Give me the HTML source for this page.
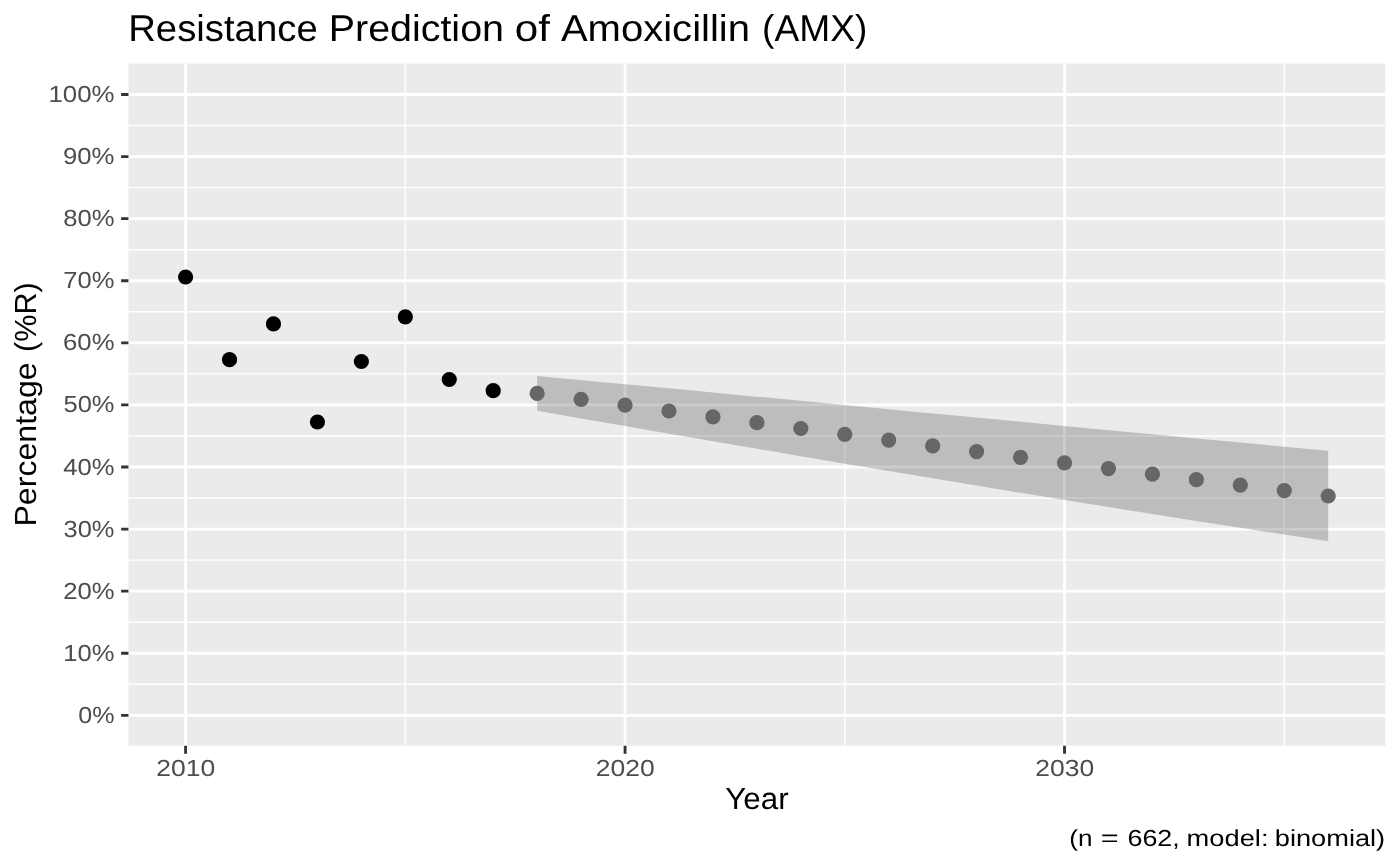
<!DOCTYPE html>
<html><head><meta charset="utf-8"><title>Resistance Prediction of Amoxicillin (AMX)</title>
<style>
html,body{margin:0;padding:0;background:#fff;}
body{width:1400px;height:866px;overflow:hidden;font-family:"Liberation Sans",sans-serif;}
svg{display:block;}
svg text{font-family:"Liberation Sans",sans-serif;}
</style></head><body>
<svg width="1400" height="866" viewBox="0 0 1400 866">
<rect width="1400" height="866" fill="#fff"/>
<rect x="128.45" y="63.6" width="1256.88" height="682.05" fill="#EBEBEB"/>
<path d="M128.45 684.31H1385.33M128.45 622.22H1385.33M128.45 560.14H1385.33M128.45 498.05H1385.33M128.45 435.97H1385.33M128.45 373.88H1385.33M128.45 311.80H1385.33M128.45 249.71H1385.33M128.45 187.63H1385.33M128.45 125.54H1385.33M405.32 63.6V745.65M844.78 63.6V745.65M1284.25 63.6V745.65" stroke="#fff" stroke-width="1.42" fill="none"/>
<path d="M128.45 715.35H1385.33M128.45 653.26H1385.33M128.45 591.18H1385.33M128.45 529.10H1385.33M128.45 467.01H1385.33M128.45 404.93H1385.33M128.45 342.84H1385.33M128.45 280.76H1385.33M128.45 218.67H1385.33M128.45 156.59H1385.33M128.45 94.50H1385.33M185.58 63.6V745.65M625.05 63.6V745.65M1064.52 63.6V745.65" stroke="#fff" stroke-width="2.85" fill="none"/>
<polygon points="537.16,376.12 581.10,380.17 625.05,384.24 669.00,388.35 712.94,392.48 756.89,396.63 800.84,400.80 844.78,404.99 888.73,409.18 932.68,413.38 976.62,417.58 1020.57,421.78 1064.52,425.97 1108.46,430.15 1152.41,434.32 1196.36,438.47 1240.31,442.61 1284.25,446.72 1328.20,450.80 1328.20,541.20 1284.25,534.53 1240.31,527.78 1196.36,520.94 1152.41,514.02 1108.46,507.02 1064.52,499.96 1020.57,492.82 976.62,485.61 932.68,478.34 888.73,471.02 844.78,463.64 800.84,456.20 756.89,448.73 712.94,441.20 669.00,433.64 625.05,426.05 581.10,418.43 537.16,410.78" fill="#333333" fill-opacity="0.25"/>
<g fill="#000"><circle cx="185.58" cy="277.00" r="7.6"/><circle cx="229.53" cy="359.65" r="7.6"/><circle cx="273.47" cy="323.95" r="7.6"/><circle cx="317.42" cy="422.00" r="7.6"/><circle cx="361.37" cy="361.50" r="7.6"/><circle cx="405.32" cy="316.85" r="7.6"/><circle cx="449.26" cy="379.50" r="7.6"/><circle cx="493.21" cy="390.70" r="7.6"/></g>
<g fill="#666666"><circle cx="537.16" cy="393.45" r="7.6"/><circle cx="581.10" cy="399.30" r="7.6"/><circle cx="625.05" cy="405.15" r="7.6"/><circle cx="669.00" cy="411.00" r="7.6"/><circle cx="712.94" cy="416.84" r="7.6"/><circle cx="756.89" cy="422.68" r="7.6"/><circle cx="800.84" cy="428.50" r="7.6"/><circle cx="844.78" cy="434.31" r="7.6"/><circle cx="888.73" cy="440.10" r="7.6"/><circle cx="932.68" cy="445.86" r="7.6"/><circle cx="976.62" cy="451.60" r="7.6"/><circle cx="1020.57" cy="457.30" r="7.6"/><circle cx="1064.52" cy="462.96" r="7.6"/><circle cx="1108.46" cy="468.59" r="7.6"/><circle cx="1152.41" cy="474.17" r="7.6"/><circle cx="1196.36" cy="479.71" r="7.6"/><circle cx="1240.31" cy="485.19" r="7.6"/><circle cx="1284.25" cy="490.62" r="7.6"/><circle cx="1328.20" cy="496.00" r="7.6"/></g>
<path d="M121.12 715.35H128.45M121.12 653.26H128.45M121.12 591.18H128.45M121.12 529.10H128.45M121.12 467.01H128.45M121.12 404.93H128.45M121.12 342.84H128.45M121.12 280.76H128.45M121.12 218.67H128.45M121.12 156.59H128.45M121.12 94.50H128.45M185.58 745.65V753.68M625.05 745.65V753.68M1064.52 745.65V753.68" stroke="#333333" stroke-width="2.85" fill="none"/>
<g opacity="0.999" text-rendering="geometricPrecision">
<text y="40.90" font-size="37.30" fill="#000"><tspan x="128.16" textLength="189.55" lengthAdjust="spacingAndGlyphs">Resistance</tspan> <tspan x="328.77" textLength="175.19" lengthAdjust="spacingAndGlyphs">Prediction</tspan> <tspan x="514.83" textLength="35.11" lengthAdjust="spacingAndGlyphs">of</tspan> <tspan x="560.92" textLength="189.08" lengthAdjust="spacingAndGlyphs">Amoxicillin</tspan> <tspan x="762.10" textLength="105.21" lengthAdjust="spacingAndGlyphs">(AMX)</tspan></text>
<text x="78.23" y="722.90" font-size="23.30" fill="#4D4D4D" textLength="36.27" lengthAdjust="spacingAndGlyphs">0%</text>
<text x="63.36" y="660.81" font-size="23.30" fill="#4D4D4D" textLength="51.15" lengthAdjust="spacingAndGlyphs">10%</text>
<text x="63.16" y="598.73" font-size="23.30" fill="#4D4D4D" textLength="51.36" lengthAdjust="spacingAndGlyphs">20%</text>
<text x="63.55" y="536.64" font-size="23.30" fill="#4D4D4D" textLength="50.96" lengthAdjust="spacingAndGlyphs">30%</text>
<text x="63.29" y="474.56" font-size="23.30" fill="#4D4D4D" textLength="51.22" lengthAdjust="spacingAndGlyphs">40%</text>
<text x="63.52" y="412.48" font-size="23.30" fill="#4D4D4D" textLength="50.99" lengthAdjust="spacingAndGlyphs">50%</text>
<text x="63.06" y="350.39" font-size="23.30" fill="#4D4D4D" textLength="51.45" lengthAdjust="spacingAndGlyphs">60%</text>
<text x="63.34" y="288.31" font-size="23.30" fill="#4D4D4D" textLength="51.17" lengthAdjust="spacingAndGlyphs">70%</text>
<text x="63.21" y="226.22" font-size="23.30" fill="#4D4D4D" textLength="51.31" lengthAdjust="spacingAndGlyphs">80%</text>
<text x="63.00" y="164.14" font-size="23.30" fill="#4D4D4D" textLength="51.52" lengthAdjust="spacingAndGlyphs">90%</text>
<text x="48.41" y="102.05" font-size="23.30" fill="#4D4D4D" textLength="66.12" lengthAdjust="spacingAndGlyphs">100%</text>
<text x="156.35" y="775.85" font-size="23.30" fill="#4D4D4D" textLength="58.97" lengthAdjust="spacingAndGlyphs">2010</text>
<text x="595.82" y="775.85" font-size="23.30" fill="#4D4D4D" textLength="58.97" lengthAdjust="spacingAndGlyphs">2020</text>
<text x="1035.28" y="775.85" font-size="23.30" fill="#4D4D4D" textLength="58.97" lengthAdjust="spacingAndGlyphs">2030</text>
<text x="725.34" y="808.90" font-size="30.50" fill="#000" textLength="63.26" lengthAdjust="spacingAndGlyphs">Year</text>
<text y="845.50" font-size="23.30" fill="#000"><tspan x="1069.28" textLength="23.21" lengthAdjust="spacingAndGlyphs">(n</tspan> <tspan x="1100.80" textLength="17.91" lengthAdjust="spacingAndGlyphs">=</tspan> <tspan x="1127.43" textLength="52.38" lengthAdjust="spacingAndGlyphs">662,</tspan> <tspan x="1186.59" textLength="81.90" lengthAdjust="spacingAndGlyphs">model:</tspan> <tspan x="1274.75" textLength="110.44" lengthAdjust="spacingAndGlyphs">binomial)</tspan></text>
<text transform="rotate(-90)" y="36.1" font-size="30.5" fill="#000"><tspan x="-526.64" textLength="164.36" lengthAdjust="spacingAndGlyphs">Percentage</tspan> <tspan x="-351.90" textLength="69.70" lengthAdjust="spacingAndGlyphs">(%R)</tspan></text>
</g>
</svg>
</body></html>
